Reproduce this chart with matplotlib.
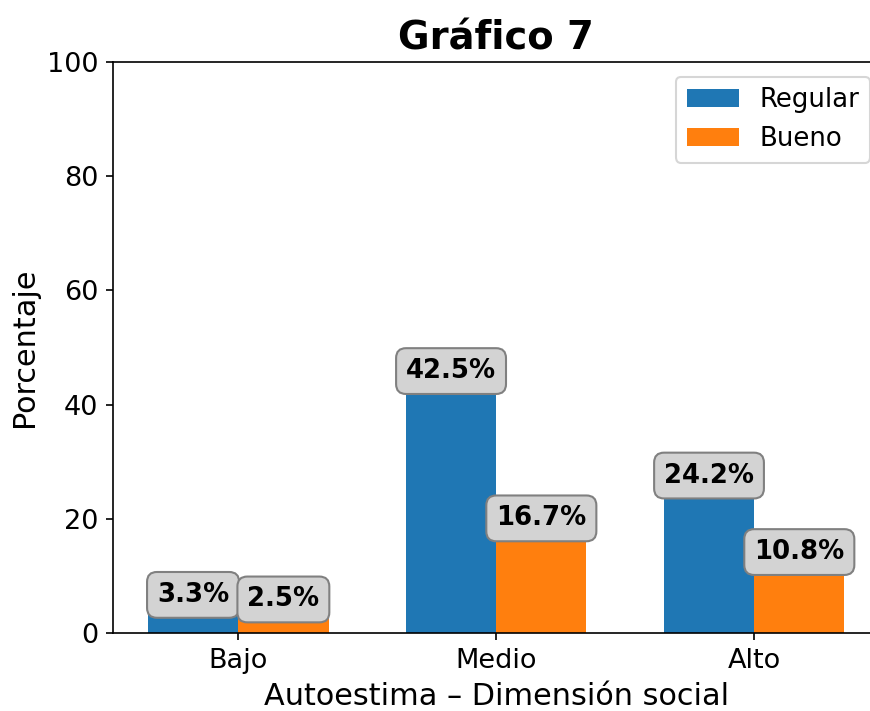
import numpy as np
import matplotlib.pyplot as plt

categorias = ["Bajo", "Medio", "Alto"]
regular = [3.3, 42.5, 24.2]
bueno = [2.5, 16.7, 10.8]

fig = plt.figure(figsize=(5.8, 4.74), dpi=150)
# the reference is cropped on the right, so the axes reach the figure edge
ax = fig.add_axes([0.130, 0.1097, 0.870, 0.803])

x = np.arange(len(categorias))
w = 0.35
b1 = ax.bar(x - w / 2, regular, w, label="Regular", color="#1f77b4")
b2 = ax.bar(x + w / 2, bueno, w, label="Bueno", color="#ff7f0e")

for bars in (b1, b2):
    for r in bars:
        h = r.get_height()
        ax.text(r.get_x() + r.get_width() / 2, h + 1.1, "{:.1f}%".format(h),
                ha="center", va="bottom", fontsize=12.5, fontweight="bold",
                bbox=dict(boxstyle="round,pad=0.38", facecolor="lightgray", edgecolor="gray"))

ax.set_xlim(-0.485, 2.449)
ax.set_ylim(0, 100)
ax.spines["right"].set_visible(False)
ax.set_xticks(x)
ax.set_xticklabels(categorias)
ax.tick_params(labelsize=13)
ax.set_xlabel("Autoestima – Dimensión social", fontsize=14.5, x=0.506)
ax.set_ylabel("Porcentaje", fontsize=14.5)
ax.set_title("Gráfico 7", fontsize=18.5, fontweight="bold", x=0.506)
ax.legend(fontsize=12.5, loc="upper right", bbox_to_anchor=(1.017, 0.997))

fig.savefig("out.png", dpi=150)
